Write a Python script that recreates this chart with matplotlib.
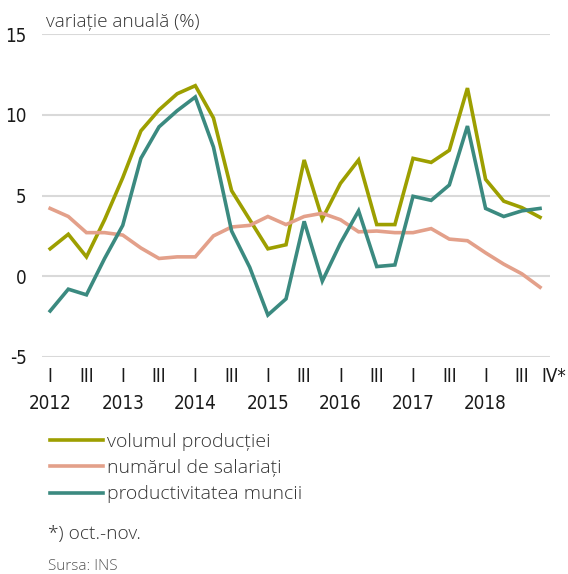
import numpy as np
import matplotlib
matplotlib.use("Agg")
import matplotlib.pyplot as plt
from matplotlib.transforms import blended_transform_factory, ScaledTranslation

# quarterly annual change, 2012 Q1 .. 2018 Q4 (Q4 2018 = oct.-nov.)
volumul_productiei = [1.7, 2.6, 1.2, 3.5, 6.1, 9.0, 10.3, 11.3, 11.8, 9.8,
                      5.3, 3.5, 1.7, 1.95, 7.2, 3.55, 5.75, 7.2, 3.2, 3.2,
                      7.3, 7.05, 7.8, 11.65, 6.0, 4.65, 4.25, 3.65]
numarul_salariati = [4.2, 3.7, 2.7, 2.7, 2.55, 1.75, 1.1, 1.2, 1.2, 2.5,
                     3.05, 3.15, 3.7, 3.2, 3.7, 3.9, 3.5, 2.75, 2.8, 2.7,
                     2.7, 2.95, 2.3, 2.2, 1.45, 0.75, 0.15, -0.68]
productivitatea = [-2.15, -0.8, -1.15, 1.1, 3.15, 7.3, 9.25, 10.25, 11.1, 8.0,
                   2.8, 0.55, -2.4, -1.4, 3.4, -0.3, 2.05, 4.05, 0.6, 0.7,
                   4.95, 4.7, 5.65, 9.3, 4.2, 3.7, 4.05, 4.2]

quarter_labels = ["I", "III"] * 7 + ["IV*"]
years = ["2012", "2013", "2014", "2015", "2016", "2017", "2018"]

series = [
    (volumul_productiei, "volumul producției", "#9d9f00"),
    (numarul_salariati, "numărul de salariați", "#e3a08a"),
    (productivitatea, "productivitatea muncii", "#3b8a80"),
]

TICK_FONT = ["DejaVu Sans"]
TEXT_FONT = ["Open Sans", "DejaVu Sans"]

fig = plt.figure(figsize=(5.68, 5.74), dpi=100)
ax = fig.add_axes([42 / 568, 1 - 357 / 574, 508 / 568, 323 / 574])

x = np.arange(len(volumul_productiei))
for values, label, color in series:
    ax.plot(x, values, color=color, linewidth=2.6, label=label,
            solid_joinstyle="miter", zorder=3)

ax.set_ylim(-5, 15)
ax.set_xlim(-0.45, 27.55)
ax.set_yticks([-5, 0, 5, 10, 15])
ax.set_yticklabels(["-5", "0", "5", "10", "15"])
ax.grid(axis="y", color="#d9d9d9", linewidth=1.5)
ax.set_axisbelow(True)
for s in ax.spines.values():
    s.set_visible(False)

qpos = list(range(0, 28, 2)) + [27]
ax.set_xticks(qpos)
ax.set_xticklabels(quarter_labels)
ax.tick_params(length=0, labelsize=13.5, colors="#1a1a1a")
ax.tick_params(axis="y", pad=11)
ax.tick_params(axis="x", pad=7)
for t in ax.get_xticklabels() + ax.get_yticklabels():
    t.set_family(TICK_FONT)
    t.set_fontstretch("condensed")
# "IV*" sits a little right of its quarter, as in the original
last = ax.get_xticklabels()[-1]
last.set_transform(last.get_transform()
                   + ScaledTranslation(10 / 72, 0, fig.dpi_scale_trans))

trans = blended_transform_factory(ax.transData, ax.transAxes)
for k, yr in enumerate(years):
    ax.text(4 * k, -0.143, yr, transform=trans, ha="center", va="center",
            fontsize=13.5, family=TICK_FONT, stretch="condensed",
            color="#1a1a1a")

fig.text(46 / 568, 1 - 22 / 574, "variație anuală (%)", fontsize=13.7,
         family=TEXT_FONT, color="#333333", va="center", weight="light")

leg = ax.legend(loc="upper left", bbox_to_anchor=(50 / 568, 1 - 433 / 574),
                bbox_transform=fig.transFigure, frameon=False,
                prop={"family": TEXT_FONT, "size": 14, "weight": "light"},
                handlelength=2.7, handletextpad=0.25, labelspacing=0.42,
                borderpad=0, borderaxespad=0)
for t in leg.get_texts():
    t.set_color("#333333")

fig.text(48 / 568, 1 - 534 / 574, "*) oct.-nov.", fontsize=13.8,
         family=TEXT_FONT, color="#333333", va="center", weight="light")
fig.text(48 / 568, 1 - 567 / 574, "Sursa: INS", fontsize=11,
         family=TEXT_FONT, color="#555555", va="center", weight="light")

fig.savefig("out.png", dpi=100)
